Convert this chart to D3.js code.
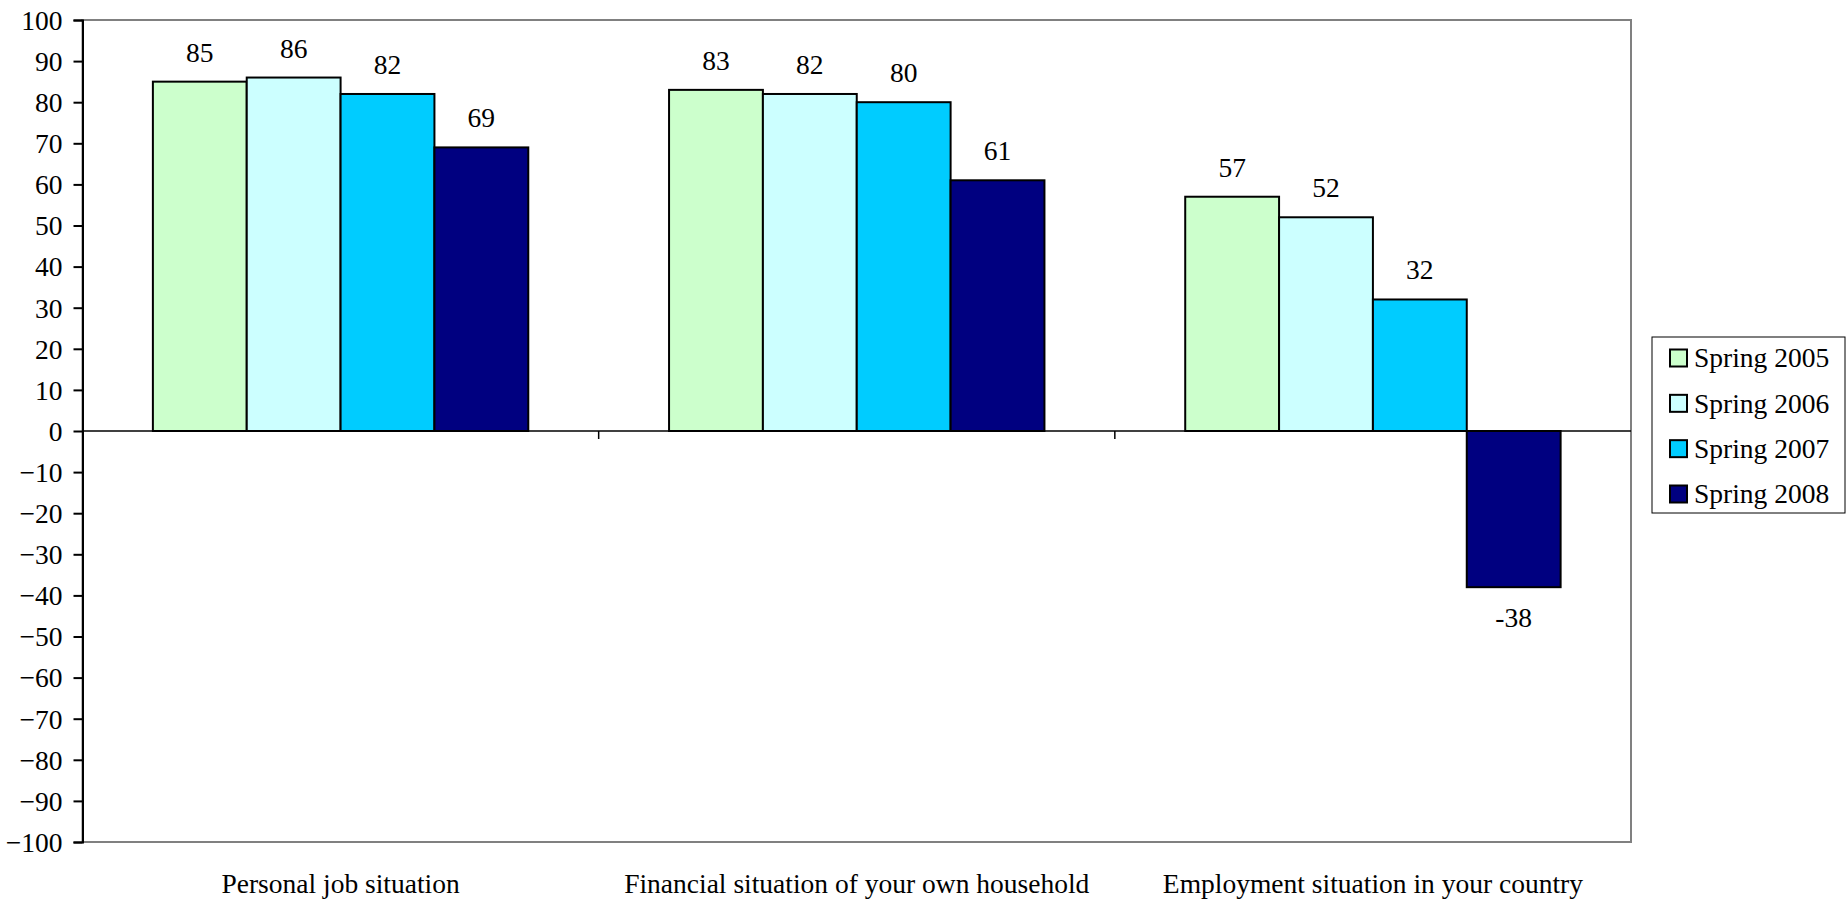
<!DOCTYPE html>
<html>
<head>
<meta charset="utf-8">
<script src="https://cdn.jsdelivr.net/npm/d3@7.9.0/dist/d3.min.js"></script>
<style>
  html, body { margin: 0; padding: 0; background: #fff; }
  svg text { font-family: "Liberation Serif", "Times New Roman", serif; fill: #000; }
</style>
</head>
<body>
<svg id="chart" width="1848" height="903"></svg>
<script>
const categories = [
  "Personal job situation",
  "Financial situation of your own household",
  "Employment situation in your country"
];
const seriesNames = ["Spring 2005", "Spring 2006", "Spring 2007", "Spring 2008"];
const spring2005 = [85, 83, 57];
const spring2006 = [86, 82, 52];
const spring2007 = [82, 80, 32];
const spring2008 = [69, 61, -38];
const seriesColors = ["#CCFFCC", "#CCFFFF", "#00CCFF", "#000080"];
const yTicks = d3.range(-100, 101, 10);

const values = [spring2005, spring2006, spring2007, spring2008];

const svg = d3.select("#chart");
const plotLeft = 82.5, plotRight = 1631, plotTop = 20, plotBottom = 842;
const fontSize = 27.5;

const x = d3.scaleBand().domain(categories).range([plotLeft, plotRight]).padding(0);
// gap width 150% on each side of the bar cluster
const xInner = d3.scaleBand()
  .domain(seriesNames)
  .range([0, x.bandwidth()])
  .paddingInner(0)
  .paddingOuter(0.75);
const y = d3.scaleLinear().domain([-100, 100]).range([plotBottom, plotTop]);

// plot border (gray)
svg.append("rect")
  .attr("x", plotLeft).attr("y", plotTop)
  .attr("width", plotRight - plotLeft).attr("height", plotBottom - plotTop)
  .attr("fill", "none").attr("stroke", "#808080").attr("stroke-width", 2);

// bars
seriesNames.forEach((name, si) => {
  const rows = categories.map((c, ci) => ({ c, v: values[si][ci] }));

  svg.append("g")
    .selectAll("rect")
    .data(rows)
    .join("rect")
    .attr("x", (d) => x(d.c) + xInner(name))
    .attr("width", xInner.bandwidth())
    .attr("y", (d) => y(Math.max(0, d.v)))
    .attr("height", (d) => Math.abs(y(d.v) - y(0)))
    .attr("fill", seriesColors[si])
    .attr("stroke", "#000")
    .attr("stroke-width", 2);

  svg.append("g")
    .selectAll("text")
    .data(rows)
    .join("text")
    .attr("x", (d) => x(d.c) + xInner(name) + xInner.bandwidth() / 2)
    .attr("y", (d) => (d.v >= 0 ? y(d.v) - 20 : y(d.v) + 40))
    .attr("text-anchor", "middle")
    .attr("font-size", fontSize)
    .text((d) => d.v);
});

// y axis
const yAxis = svg.append("g")
  .attr("transform", `translate(${plotLeft},0)`)
  .call(d3.axisLeft(y).tickValues(yTicks).tickSize(9).tickPadding(11).tickFormat(d3.format("d")));
yAxis.attr("font-family", null);
yAxis.select(".domain").attr("stroke", "#000").attr("stroke-width", 2);
yAxis.selectAll(".tick line").attr("stroke", "#000").attr("stroke-width", 2);
yAxis.selectAll(".tick text")
  .attr("font-size", fontSize)
  .attr("dy", "0.34em");

// zero line with category tick marks
svg.append("line")
  .attr("x1", plotLeft).attr("x2", plotRight)
  .attr("y1", y(0)).attr("y2", y(0))
  .attr("stroke", "#000").attr("stroke-width", 1.5);
svg.append("g")
  .selectAll("line")
  .data(categories.slice(1))
  .join("line")
  .attr("x1", (d) => x(d))
  .attr("x2", (d) => x(d))
  .attr("y1", y(0)).attr("y2", y(0) + 8)
  .attr("stroke", "#000").attr("stroke-width", 1.5);

// category labels
svg.append("g")
  .selectAll("text")
  .data(categories)
  .join("text")
  .attr("x", (d) => x(d) + x.bandwidth() / 2)
  .attr("y", 893)
  .attr("text-anchor", "middle")
  .attr("font-size", fontSize)
  .text((d) => d);

// legend
const legend = svg.append("g");
legend.append("rect")
  .attr("x", 1652).attr("y", 337)
  .attr("width", 193).attr("height", 176)
  .attr("fill", "#fff").attr("stroke", "#000").attr("stroke-width", 1);
const rowY = d3.scalePoint().domain(seriesNames).range([358, 494]);
legend.selectAll("rect.sw")
  .data(seriesNames)
  .join("rect")
  .attr("class", "sw")
  .attr("x", 1670).attr("y", (d) => rowY(d) - 8.5)
  .attr("width", 17).attr("height", 17)
  .attr("fill", (d, i) => seriesColors[i])
  .attr("stroke", "#000").attr("stroke-width", 2);
legend.selectAll("text")
  .data(seriesNames)
  .join("text")
  .attr("x", 1694).attr("y", (d) => rowY(d))
  .attr("dy", "0.34em")
  .attr("font-size", fontSize)
  .text((d) => d);
</script>
</body>
</html>
